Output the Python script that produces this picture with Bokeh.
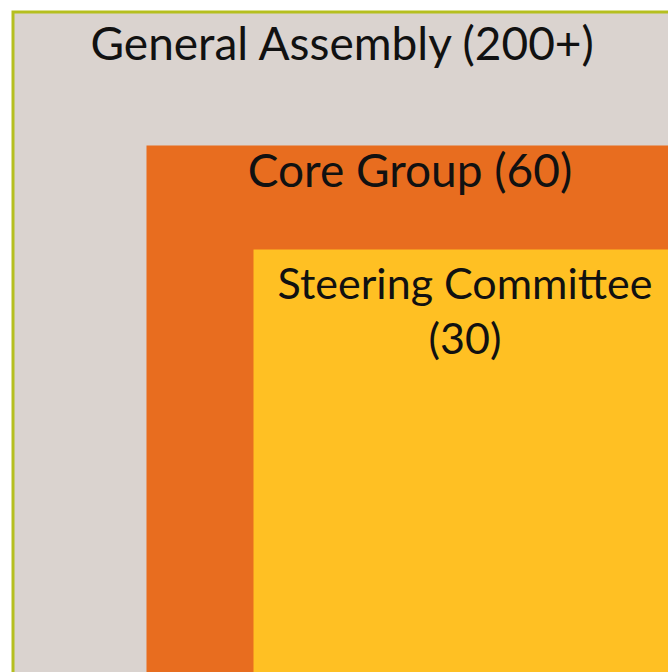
from bokeh.plotting import figure
from bokeh.models import Range1d, ColumnDataSource
from bokeh.embed import file_html
from bokeh.resources import INLINE
from bokeh.core.properties import value

# --- data ---
groups = ["General Assembly (200+)", "Core Group (60)", "Steering Committee\n(30)"]
members = [200, 60, 30]
colors = ["#DAD3CF", "#E86D1F", "#FFC023"]

# --- layout (pixel space of the figure) ---
W, H = 668, 672
box_left = [14, 146, 253]
box_top = [13, 145, 249]
label_x = [343, 409.5, 464.5]
label_y = [59, 186, 299]
label_size = [46, 46, 43]
line_gap = 55
baseline_fix = 17

p = figure(width=W, height=H, x_range=Range1d(0, W), y_range=Range1d(H, 0),
           output_backend="svg", toolbar_location=None, min_border=0,
           background_fill_color="white", border_fill_color="white")
p.axis.visible = False
p.grid.visible = False
p.outline_line_color = None

# olive frame
p.quad(left=11, right=W + 50, top=10, bottom=H + 50, fill_color="#B5BF1F", line_color=None)

src = ColumnDataSource(dict(left=box_left, top=box_top,
                            right=[W + 50] * 3, bottom=[H + 50] * 3, color=colors))
p.quad(left="left", right="right", top="top", bottom="bottom", fill_color="color",
       line_color=None, source=src)

for g, x, y, s in zip(groups, label_x, label_y, label_size):
    for i, line in enumerate(g.split("\n")):
        p.text(x=[x], y=[y + i * line_gap - baseline_fix], text=[line],
               text_align="center", text_baseline="alphabetic",
               text_font=value("Lato"), text_font_size=f"{s}px", text_color="#111111")

open("out.html", "w").write(file_html(p, INLINE))
